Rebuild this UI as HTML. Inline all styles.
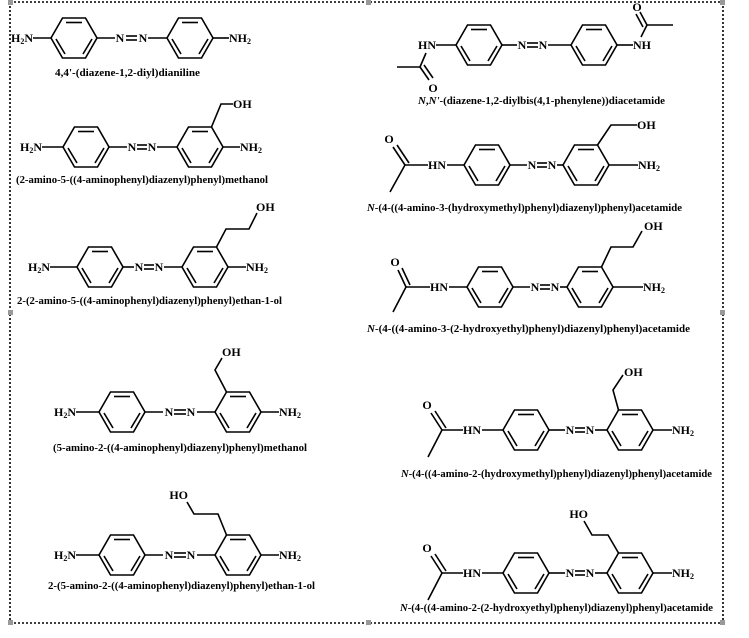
<!DOCTYPE html>
<html><head><meta charset="utf-8"><style>
html,body{margin:0;padding:0;background:#fff;}
svg{display:block;}
text{font-family:"Liberation Serif",serif;font-weight:bold;fill:#000;}
.a{font-size:12px;}
.n{font-size:10px;}
line,polyline,polygon{stroke:#000;stroke-width:1.6;fill:none;}
</style></head><body>
<svg width="749" height="638" viewBox="0 0 749 638" xmlns="http://www.w3.org/2000/svg">
<defs>
<g id="ring">
<polygon points="-23,0 -11.5,-20 11.5,-20 23,0 11.5,20 -11.5,20"/>
<line x1="-8" y1="-15.5" x2="8" y2="-15.5"/>
<line x1="-18" y1="1" x2="-9" y2="16"/>
<line x1="18" y1="1" x2="9" y2="16"/>
</g>
</defs>
<g stroke="#aaa" stroke-width="1" stroke-dasharray="2,2">
<line x1="10" y1="2" x2="723" y2="2"/>
<line x1="10" y1="2" x2="10" y2="623"/>
<line x1="723" y1="2" x2="723" y2="623"/>
<line x1="10" y1="623" x2="723" y2="623"/>
</g>
<g fill="#999" stroke="none">
<rect x="8" y="0" width="5" height="5"/><rect x="366" y="0" width="5" height="5"/><rect x="720" y="0" width="5" height="5"/>
<rect x="8" y="310" width="5" height="5"/><rect x="720" y="310" width="5" height="5"/>
<rect x="8" y="620" width="5" height="5"/><rect x="366" y="620" width="5" height="5"/><rect x="720" y="620" width="5" height="5"/>
</g>

<text class="a" x="33" y="42" text-anchor="end">H<tspan font-size="8" dy="2">2</tspan><tspan dy="-2">N</tspan></text>
<line x1="33" y1="38" x2="51" y2="38"/>
<use href="#ring" x="74" y="38"/>
<line x1="97" y1="38" x2="115" y2="38"/>
<text class="a" x="120" y="42" text-anchor="middle">N</text><text class="a" x="143" y="42" text-anchor="middle">N</text>
<line x1="126" y1="36" x2="137" y2="36"/><line x1="126" y1="40" x2="137" y2="40"/>
<line x1="148" y1="38" x2="167" y2="38"/>
<use href="#ring" x="190" y="38"/>
<line x1="213" y1="38" x2="229" y2="38"/>
<text class="a" x="229" y="42">NH<tspan font-size="8" dy="2">2</tspan></text>
<text class="n" x="55" y="76" textLength="145" lengthAdjust="spacingAndGlyphs">4,4'-(diazene-1,2-diyl)dianiline</text>

<text class="a" x="42" y="151" text-anchor="end">H<tspan font-size="8" dy="2">2</tspan><tspan dy="-2">N</tspan></text>
<line x1="42" y1="147" x2="63" y2="147"/>
<use href="#ring" x="86" y="147"/>
<line x1="109" y1="147" x2="127" y2="147"/>
<text class="a" x="132" y="151" text-anchor="middle">N</text><text class="a" x="152" y="151" text-anchor="middle">N</text>
<line x1="137" y1="145" x2="147" y2="145"/><line x1="137" y1="149" x2="147" y2="149"/>
<line x1="157" y1="147" x2="177" y2="147"/>
<use href="#ring" x="200" y="147"/>
<line x1="223" y1="147" x2="240" y2="147"/>
<text class="a" x="240" y="151">NH<tspan font-size="8" dy="2">2</tspan></text>
<polyline points="211.5,127 221,104 233,104"/>
<text class="a" x="233" y="108">OH</text>
<text class="n" x="16" y="183" textLength="252" lengthAdjust="spacingAndGlyphs">(2-amino-5-((4-aminophenyl)diazenyl)phenyl)methanol</text>

<text class="a" x="50" y="271" text-anchor="end">H<tspan font-size="8" dy="2">2</tspan><tspan dy="-2">N</tspan></text>
<line x1="50" y1="267" x2="77" y2="267"/>
<use href="#ring" x="100" y="267"/>
<line x1="123" y1="267" x2="134" y2="267"/>
<text class="a" x="139" y="271" text-anchor="middle">N</text><text class="a" x="159" y="271" text-anchor="middle">N</text>
<line x1="144" y1="265" x2="154" y2="265"/><line x1="144" y1="269" x2="154" y2="269"/>
<line x1="164" y1="267" x2="182" y2="267"/>
<use href="#ring" x="205" y="267"/>
<line x1="228" y1="267" x2="246" y2="267"/>
<text class="a" x="246" y="271">NH<tspan font-size="8" dy="2">2</tspan></text>
<polyline points="216.5,247 226,229 249,229 257,213"/>
<text class="a" x="256" y="211">OH</text>
<text class="n" x="17" y="304" textLength="265" lengthAdjust="spacingAndGlyphs">2-(2-amino-5-((4-aminophenyl)diazenyl)phenyl)ethan-1-ol</text>

<text class="a" x="76" y="416" text-anchor="end">H<tspan font-size="8" dy="2">2</tspan><tspan dy="-2">N</tspan></text>
<line x1="76" y1="412" x2="99" y2="412"/>
<use href="#ring" x="122" y="412"/>
<line x1="145" y1="412" x2="163" y2="412"/>
<text class="a" x="169" y="416" text-anchor="middle">N</text><text class="a" x="191" y="416" text-anchor="middle">N</text>
<line x1="174" y1="410" x2="186" y2="410"/><line x1="174" y1="414" x2="186" y2="414"/>
<line x1="197" y1="412" x2="215" y2="412"/>
<use href="#ring" x="238" y="412"/>
<line x1="261" y1="412" x2="279" y2="412"/>
<text class="a" x="279" y="416">NH<tspan font-size="8" dy="2">2</tspan></text>
<polyline points="226.5,392 215,370 222,358"/>
<text class="a" x="222" y="356">OH</text>
<text class="n" x="53" y="451" textLength="254" lengthAdjust="spacingAndGlyphs">(5-amino-2-((4-aminophenyl)diazenyl)phenyl)methanol</text>

<text class="a" x="76" y="559" text-anchor="end">H<tspan font-size="8" dy="2">2</tspan><tspan dy="-2">N</tspan></text>
<line x1="76" y1="555" x2="99" y2="555"/>
<use href="#ring" x="122" y="555"/>
<line x1="145" y1="555" x2="163" y2="555"/>
<text class="a" x="169" y="559" text-anchor="middle">N</text><text class="a" x="191" y="559" text-anchor="middle">N</text>
<line x1="174" y1="553" x2="186" y2="553"/><line x1="174" y1="557" x2="186" y2="557"/>
<line x1="197" y1="555" x2="215" y2="555"/>
<use href="#ring" x="238" y="555"/>
<line x1="261" y1="555" x2="279" y2="555"/>
<text class="a" x="279" y="559">NH<tspan font-size="8" dy="2">2</tspan></text>
<polyline points="226.5,535 218,514 194,514 187,502"/>
<text class="a" x="188" y="499" text-anchor="end">HO</text>
<text class="n" x="48" y="589" textLength="267" lengthAdjust="spacingAndGlyphs">2-(5-amino-2-((4-aminophenyl)diazenyl)phenyl)ethan-1-ol</text>

<text class="a" x="436" y="49" text-anchor="end">HN</text>
<line x1="436" y1="45" x2="456" y2="45"/>
<use href="#ring" x="479" y="45"/>
<line x1="502" y1="45" x2="517" y2="45"/>
<text class="a" x="522" y="49" text-anchor="middle">N</text><text class="a" x="543" y="49" text-anchor="middle">N</text>
<line x1="527" y1="43" x2="538" y2="43"/><line x1="527" y1="47" x2="538" y2="47"/>
<line x1="548" y1="45" x2="571" y2="45"/>
<use href="#ring" x="594" y="45"/>
<line x1="617" y1="45" x2="633" y2="45"/>
<text class="a" x="633" y="49">NH</text>
<line x1="641" y1="37" x2="647" y2="25"/>
<line x1="647" y1="25" x2="673" y2="25"/>
<line x1="647" y1="25" x2="640" y2="12"/><line x1="643" y1="27" x2="636" y2="14"/>
<text class="a" x="637" y="11" text-anchor="middle">O</text>
<line x1="426" y1="53" x2="420" y2="67"/>
<line x1="420" y1="67" x2="397" y2="67"/>
<line x1="420" y1="67" x2="429" y2="80"/><line x1="424" y1="65" x2="433" y2="78"/>
<text class="a" x="433" y="92" text-anchor="middle">O</text>
<text class="n" x="418" y="104" textLength="247" lengthAdjust="spacingAndGlyphs"><tspan font-style="italic">N</tspan>,<tspan font-style="italic">N'</tspan>-(diazene-1,2-diylbis(4,1-phenylene))diacetamide</text>

<text class="a" x="389" y="143" text-anchor="middle">O</text>
<line x1="393" y1="147" x2="405" y2="165"/><line x1="397" y1="145" x2="409" y2="163"/>
<line x1="405" y1="165" x2="428" y2="165"/>
<line x1="405" y1="165" x2="390" y2="192"/>
<text class="a" x="428" y="169">HN</text>
<line x1="447" y1="165" x2="464" y2="165"/>
<use href="#ring" x="487" y="165"/>
<line x1="510" y1="165" x2="527" y2="165"/>
<text class="a" x="532" y="169" text-anchor="middle">N</text><text class="a" x="552" y="169" text-anchor="middle">N</text>
<line x1="537" y1="163" x2="547" y2="163"/><line x1="537" y1="167" x2="547" y2="167"/>
<line x1="557" y1="165" x2="563" y2="165"/>
<use href="#ring" x="586" y="165"/>
<line x1="609" y1="165" x2="638" y2="165"/>
<text class="a" x="638" y="169">NH<tspan font-size="8" dy="2">2</tspan></text>
<polyline points="597.5,145 611,125 637,125"/>
<text class="a" x="637" y="129">OH</text>
<text class="n" x="367" y="211" textLength="315" lengthAdjust="spacingAndGlyphs"><tspan font-style="italic">N</tspan>-(4-((4-amino-3-(hydroxymethyl)phenyl)diazenyl)phenyl)acetamide</text>

<text class="a" x="395" y="266" text-anchor="middle">O</text>
<line x1="398" y1="270" x2="406" y2="287"/><line x1="402" y1="268" x2="410" y2="285"/>
<line x1="406" y1="287" x2="430" y2="287"/>
<line x1="406" y1="287" x2="393" y2="312"/>
<text class="a" x="430" y="291">HN</text>
<line x1="449" y1="287" x2="467" y2="287"/>
<use href="#ring" x="490" y="287"/>
<line x1="513" y1="287" x2="530" y2="287"/>
<text class="a" x="535" y="291" text-anchor="middle">N</text><text class="a" x="555" y="291" text-anchor="middle">N</text>
<line x1="540" y1="285" x2="550" y2="285"/><line x1="540" y1="289" x2="550" y2="289"/>
<line x1="560" y1="287" x2="567" y2="287"/>
<use href="#ring" x="590" y="287"/>
<line x1="613" y1="287" x2="643" y2="287"/>
<text class="a" x="643" y="291">NH<tspan font-size="8" dy="2">2</tspan></text>
<polyline points="601.5,267 611,247 633,247 642,231"/>
<text class="a" x="644" y="230">OH</text>
<text class="n" x="367" y="332" textLength="323" lengthAdjust="spacingAndGlyphs"><tspan font-style="italic">N</tspan>-(4-((4-amino-3-(2-hydroxyethyl)phenyl)diazenyl)phenyl)acetamide</text>

<text class="a" x="427" y="409" text-anchor="middle">O</text>
<line x1="431" y1="413" x2="442" y2="430"/><line x1="435" y1="411" x2="446" y2="428"/>
<line x1="442" y1="430" x2="463" y2="430"/>
<line x1="442" y1="430" x2="428" y2="457"/>
<text class="a" x="463" y="434">HN</text>
<line x1="482" y1="430" x2="503" y2="430"/>
<use href="#ring" x="526" y="430"/>
<line x1="549" y1="430" x2="565" y2="430"/>
<text class="a" x="570" y="434" text-anchor="middle">N</text><text class="a" x="590" y="434" text-anchor="middle">N</text>
<line x1="575" y1="428" x2="585" y2="428"/><line x1="575" y1="432" x2="585" y2="432"/>
<line x1="595" y1="430" x2="607" y2="430"/>
<use href="#ring" x="630" y="430"/>
<line x1="653" y1="430" x2="672" y2="430"/>
<text class="a" x="672" y="434">NH<tspan font-size="8" dy="2">2</tspan></text>
<polyline points="618.5,410 613,390 623,375"/>
<text class="a" x="624" y="376">OH</text>
<text class="n" x="401" y="477" textLength="311" lengthAdjust="spacingAndGlyphs"><tspan font-style="italic">N</tspan>-(4-((4-amino-2-(hydroxymethyl)phenyl)diazenyl)phenyl)acetamide</text>

<text class="a" x="427" y="552" text-anchor="middle">O</text>
<line x1="431" y1="556" x2="442" y2="573"/><line x1="435" y1="554" x2="446" y2="571"/>
<line x1="442" y1="573" x2="463" y2="573"/>
<line x1="442" y1="573" x2="428" y2="600"/>
<text class="a" x="463" y="577">HN</text>
<line x1="482" y1="573" x2="503" y2="573"/>
<use href="#ring" x="526" y="573"/>
<line x1="549" y1="573" x2="565" y2="573"/>
<text class="a" x="570" y="577" text-anchor="middle">N</text><text class="a" x="590" y="577" text-anchor="middle">N</text>
<line x1="575" y1="571" x2="585" y2="571"/><line x1="575" y1="575" x2="585" y2="575"/>
<line x1="595" y1="573" x2="607" y2="573"/>
<use href="#ring" x="630" y="573"/>
<line x1="653" y1="573" x2="672" y2="573"/>
<text class="a" x="672" y="577">NH<tspan font-size="8" dy="2">2</tspan></text>
<polyline points="618.5,553 608,535 592,535 584,521"/>
<text class="a" x="588" y="518" text-anchor="end">HO</text>
<text class="n" x="400" y="611" textLength="313" lengthAdjust="spacingAndGlyphs"><tspan font-style="italic">N</tspan>-(4-((4-amino-2-(2-hydroxyethyl)phenyl)diazenyl)phenyl)acetamide</text>
</svg>
</body></html>
